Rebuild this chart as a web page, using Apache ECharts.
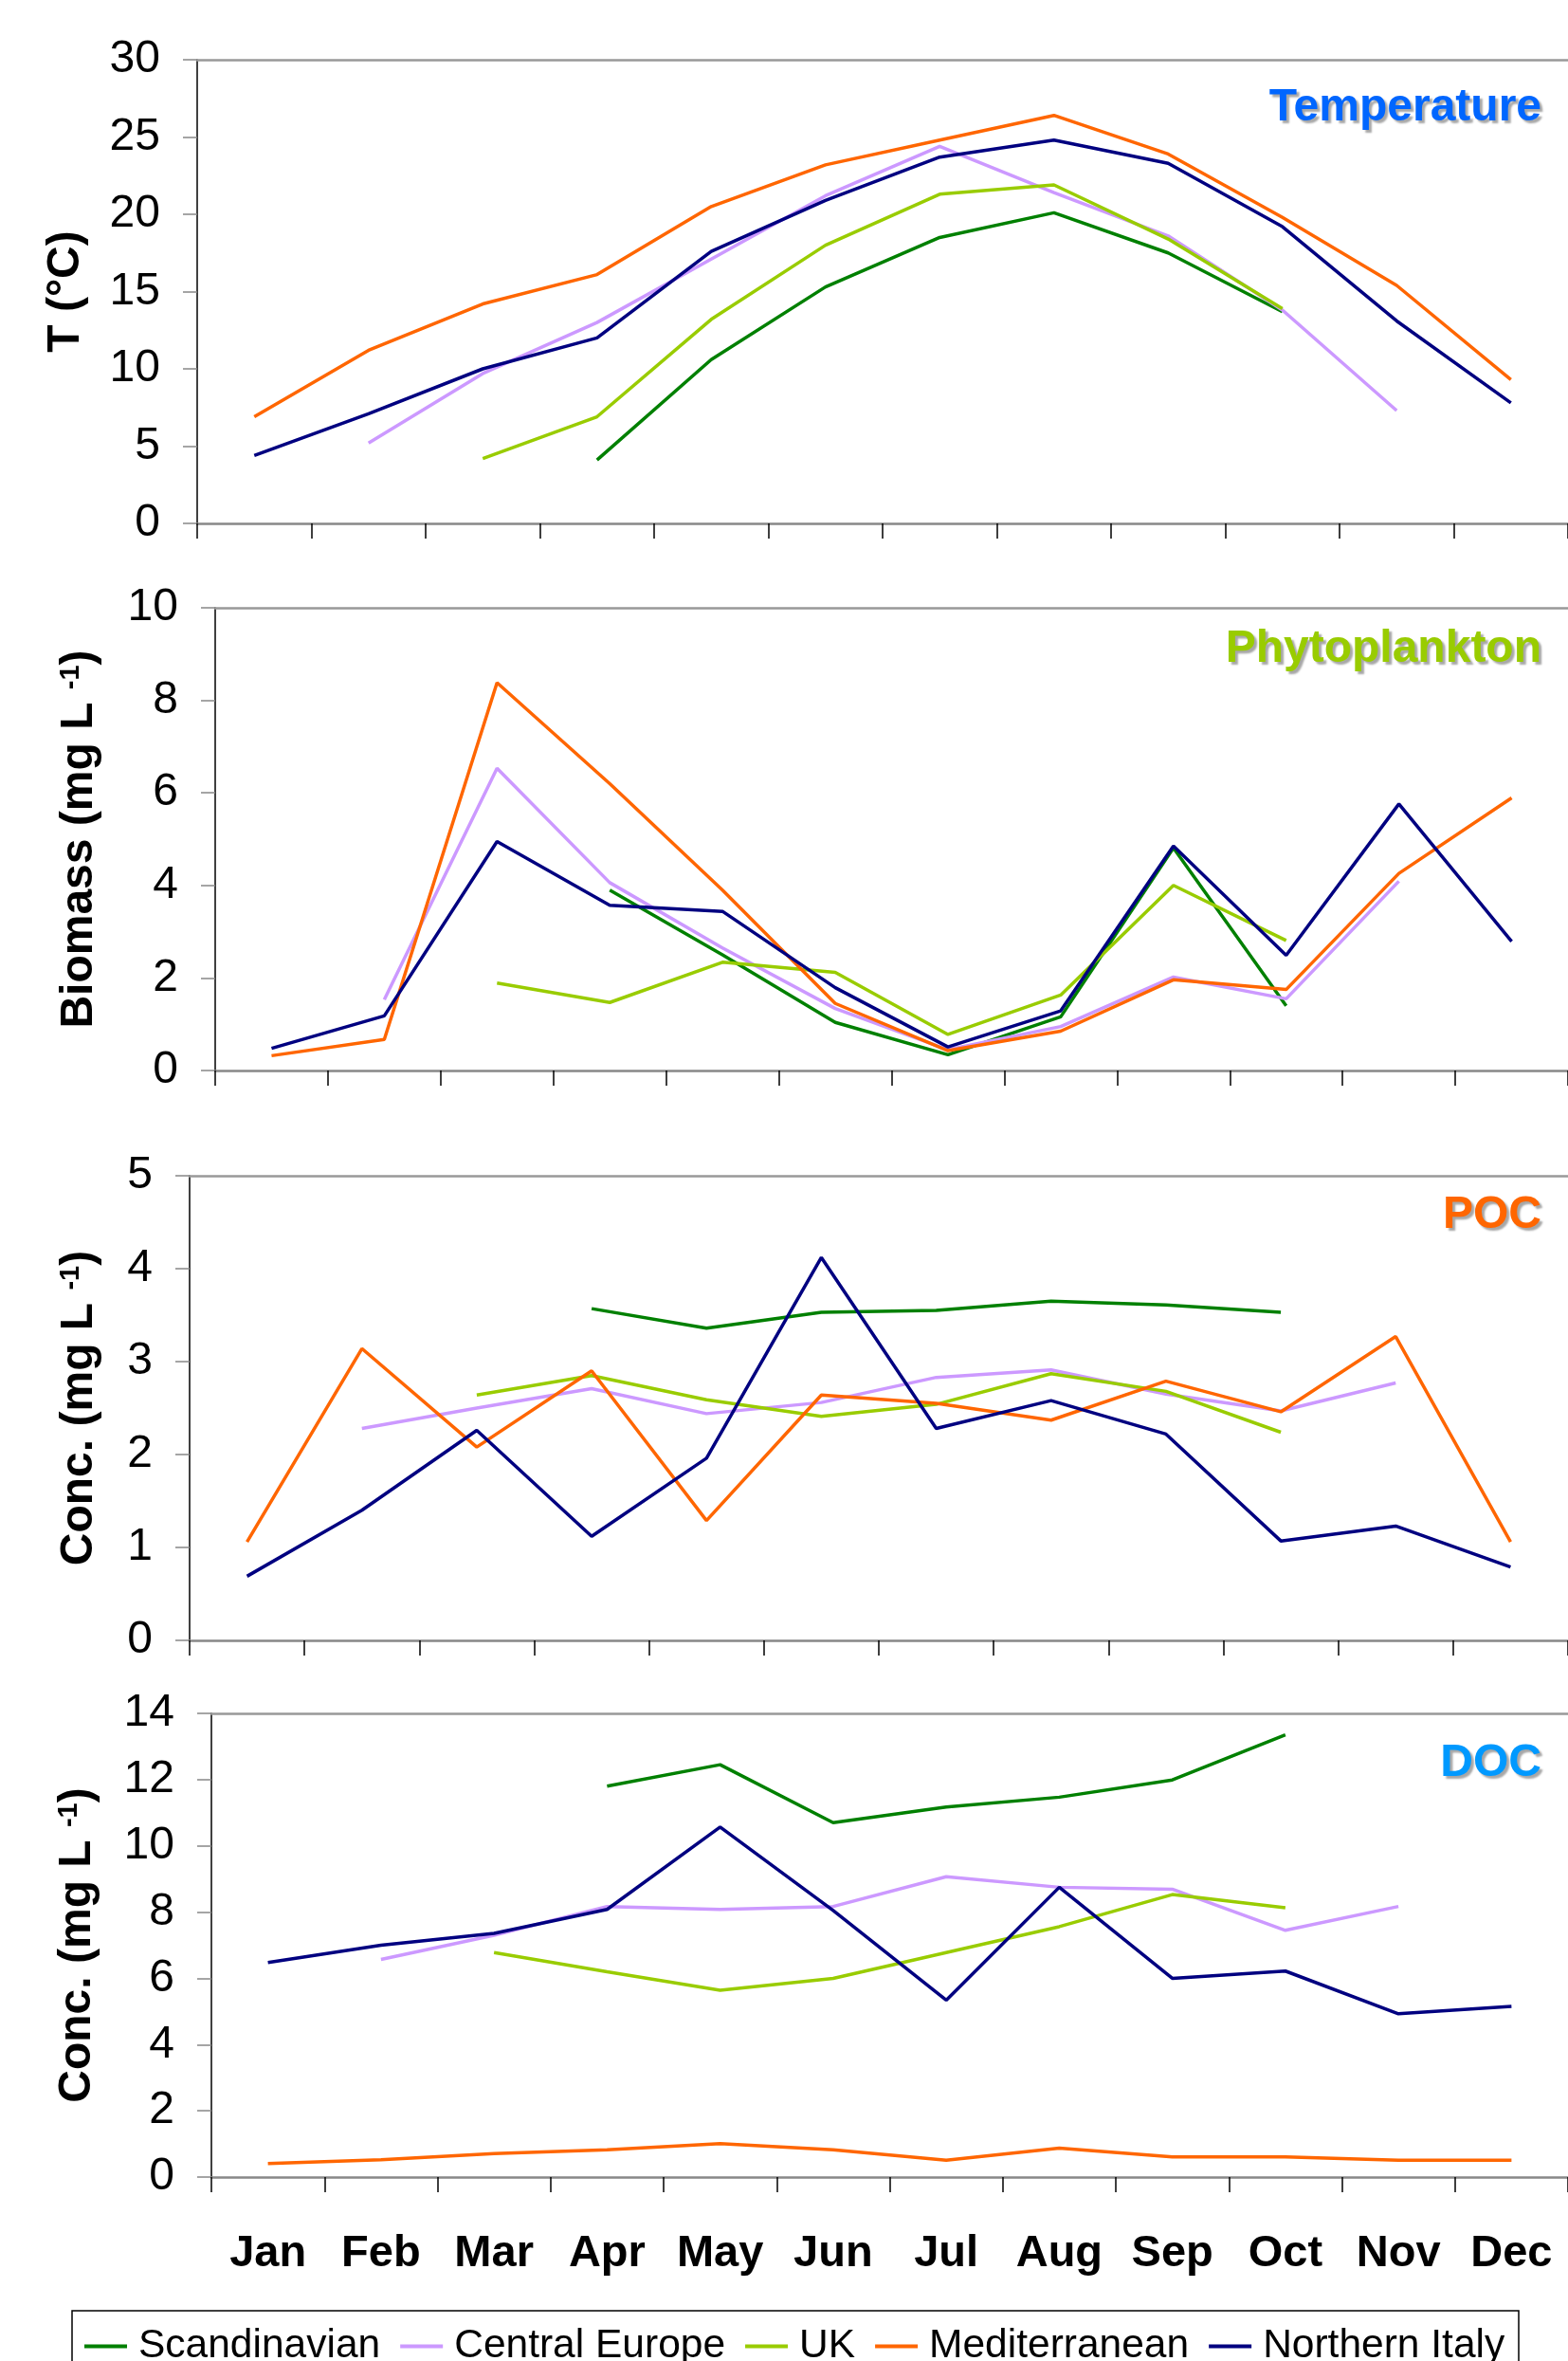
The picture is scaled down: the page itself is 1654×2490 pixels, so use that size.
<!DOCTYPE html>
<html>
<head>
<meta charset="utf-8">
<script src="https://cdn.jsdelivr.net/npm/echarts@6/dist/echarts.min.js"></script>
<style>
html,body{margin:0;padding:0;background:#fff;}
#main{width:1654px;height:2490px;}
</style>
</head>
<body>
<div id="main"></div>
<script>
var months = ['Jan','Feb','Mar','Apr','May','Jun','Jul','Aug','Sep','Oct','Nov','Dec'];
var regions = ['Scandinavian','Central Europe','UK','Mediterranean','Northern Italy'];
var regionColors = ['#008000','#CC99FF','#99CC00','#FF6600','#000080'];

// temperature (°C)
var tempScandinavian = [null,null,null,4.1,10.6,15.3,18.5,20.1,17.5,13.7,null,null];
var tempCentral      = [null,5.2,9.7,13.0,17.1,21.2,24.4,21.4,18.6,13.8,7.3,null];
var tempUK           = [null,null,4.2,6.9,13.2,18.0,21.3,21.9,18.4,13.9,null,null];
var tempMed          = [6.9,11.2,14.2,16.1,20.5,23.2,24.8,26.4,23.9,19.8,15.4,9.3];
var tempNItaly       = [4.4,7.1,10.0,12.0,17.6,20.9,23.7,24.8,23.3,19.2,13.1,7.8];

// phytoplankton biomass (mg/L)
var phytoScandinavian = [null,null,null,3.9,2.5,1.04,0.34,1.16,4.81,1.4,null,null];
var phytoCentral      = [null,1.53,6.53,4.06,2.65,1.34,0.45,0.95,2.02,1.55,4.09,null];
var phytoUK           = [null,null,1.89,1.47,2.34,2.12,0.78,1.63,4.0,2.81,null,null];
var phytoMed          = [0.32,0.67,8.38,6.2,3.9,1.45,0.43,0.85,1.96,1.75,4.26,5.89];
var phytoNItaly       = [0.48,1.18,4.95,3.57,3.44,1.79,0.51,1.29,4.85,2.49,5.76,2.79];

// POC (mg/L)
var pocScandinavian = [null,null,null,3.57,3.36,3.53,3.55,3.65,3.61,3.53,null,null];
var pocCentral      = [null,2.28,2.5,2.71,2.44,2.56,2.83,2.91,2.65,2.47,2.77,null];
var pocUK           = [null,null,2.64,2.85,2.59,2.41,2.54,2.87,2.68,2.24,null,null];
var pocMed          = [1.06,3.14,2.08,2.9,1.29,2.64,2.55,2.37,2.79,2.46,3.27,1.06];
var pocNItaly       = [0.69,1.4,2.26,1.12,1.96,4.12,2.28,2.58,2.22,1.07,1.23,0.79];

// DOC (mg/L)
var docScandinavian = [null,null,null,11.8,12.45,10.7,11.17,11.47,11.99,13.35,null,null];
var docCentral      = [null,6.57,7.3,8.17,8.08,8.17,9.07,8.75,8.69,7.45,8.17,null];
var docUK           = [null,null,6.78,6.2,5.64,6.0,6.78,7.56,8.53,8.13,null,null];
var docMed          = [0.41,0.52,0.71,0.82,1.01,0.82,0.51,0.87,0.61,0.61,0.51,0.51];
var docNItaly       = [6.48,7.0,7.36,8.08,10.57,8.05,5.34,8.75,6.0,6.22,4.93,5.15];

var panelTitles = ['Temperature','Phytoplankton','POC','DOC'];
var panelNames = ['T (°C)','Biomass (mg L {sup|-1})','Conc. (mg L {sup|-1})','Conc. (mg L {sup|-1})'];
var panelMax = [30,10,5,14];
var panelInterval = [5,2,1,2];
var panelData = [
    [tempScandinavian,tempCentral,tempUK,tempMed,tempNItaly],
    [phytoScandinavian,phytoCentral,phytoUK,phytoMed,phytoNItaly],
    [pocScandinavian,pocCentral,pocUK,pocMed,pocNItaly],
    [docScandinavian,docCentral,docUK,docMed,docNItaly]
];

// layout
var titleColors = ['#0066FF','#99CC00','#FF6600','#0099FF'];
var titleTops = [90,661,1258,1836];
var grids = [
    {left:208, top:63, width:1453, height:489},
    {left:227, top:641, width:1435, height:488},
    {left:200, top:1240, width:1458, height:490},
    {left:223, top:1807, width:1438, height:489}
];
var nameGaps = [114,119,92,117];

var fontFam = '"Liberation Sans", Arial, sans-serif';
var option = {
    animation:false,
    backgroundColor:'#fff',
    title:[],
    grid:[],
    xAxis:[],
    yAxis:[],
    series:[],
    legend:{
        data:regions,
        left:89,
        top:2453,
        padding:0,
        icon:'rect',
        itemWidth:45,
        itemHeight:4,
        itemGap:21,
        textStyle:{fontFamily:fontFam, fontSize:42.5, color:'#000', padding:[0,0,0,7]}
    },
    graphic:[{
        type:'rect',
        shape:{x:76, y:2437, width:1526, height:100},
        style:{fill:null, stroke:'#000', lineWidth:1.5}
    }]
};

for(var p=0;p<4;p++){
    option.grid.push(grids[p]);
    option.title.push({
        text:panelTitles[p],
        right:28,
        top:titleTops[p],
        padding:0,
        textStyle:{
            fontFamily:fontFam, fontSize:48, fontWeight:'bold', color:titleColors[p],
            textShadowColor:'rgba(0,0,0,0.35)', textShadowOffsetX:3, textShadowOffsetY:3, textShadowBlur:2
        }
    });
    var last = p==3;
    // bottom category axis
    option.xAxis.push({
        type:'category',
        gridIndex:p,
        data:months,
        boundaryGap:true,
        axisLine:{lineStyle:{color:'#888', width:2.5}},
        axisTick:{show:true, interval:0, length:16, lineStyle:{color:'#000', width:1.5}},
        axisLabel:{show:last, interval:0, margin:58, fontFamily:fontFam, fontSize:47, fontWeight:'bold', color:'#000'},
        splitLine:{show:false}
    });
    // top border of plot area
    option.xAxis.push({
        type:'category',
        gridIndex:p,
        position:'top',
        data:months,
        axisLine:{lineStyle:{color:'#999', width:2.5}},
        axisTick:{show:false},
        axisLabel:{show:false},
        splitLine:{show:false}
    });
    option.yAxis.push({
        type:'value',
        gridIndex:p,
        min:0,
        max:panelMax[p],
        interval:panelInterval[p],
        name:panelNames[p],
        nameLocation:'middle',
        nameGap:nameGaps[p],
        nameTextStyle:{
            fontFamily:fontFam, fontSize:48, fontWeight:'bold', color:'#000',
            rich:{sup:{fontFamily:fontFam, fontSize:29, fontWeight:'bold', color:'#000', verticalAlign:'top'}}
        },
        axisLine:{show:true, lineStyle:{color:'#000', width:1.5}},
        axisTick:{show:true, length:15, lineStyle:{color:'#888', width:1.5}},
        axisLabel:{margin:39, fontFamily:fontFam, fontSize:48, color:'#000'},
        splitLine:{show:false}
    });
    for(var s=0;s<regions.length;s++){
        option.series.push({
            name:regions[s],
            type:'line',
            xAxisIndex:p*2,
            yAxisIndex:p,
            data:panelData[p][s],
            symbol:'none',
            showSymbol:false,
            color:regionColors[s],
            lineStyle:{color:regionColors[s], width:3.5},
            z:2+(s==4?1:0)
        });
    }
}

var myChart = echarts.init(document.getElementById('main'));
myChart.setOption(option);
</script>
</body>
</html>
